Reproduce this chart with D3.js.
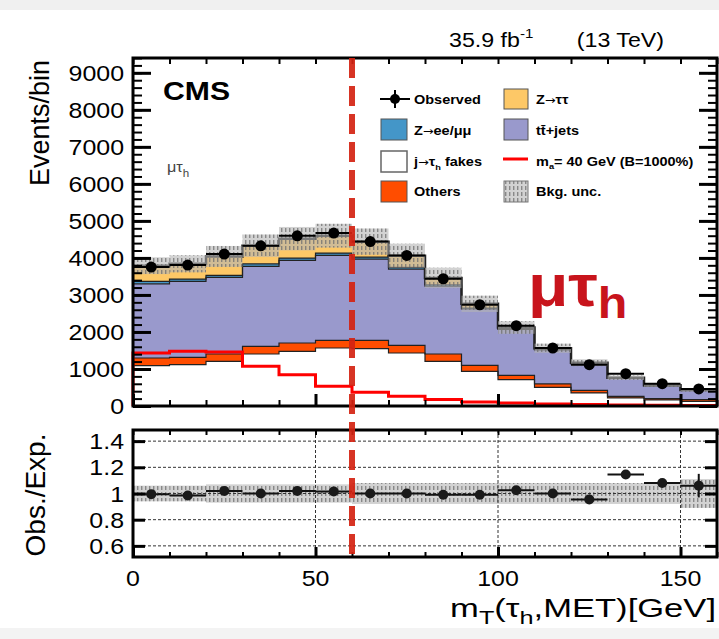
<!DOCTYPE html>
<html>
<head>
<meta charset="utf-8">
<script src="https://cdn.jsdelivr.net/npm/d3@7"></script>
<style>
  body { margin: 0; background: #fff; }
  text { font-family: "Liberation Sans", Arial, Helvetica, sans-serif; }
  .arr { font-family: "DejaVu Sans", sans-serif; font-weight: normal; }
</style>
</head>
<body>
<div id="chart"></div>
<script>
// bins of mT (GeV)
const edges = [0,10,20,30,40,50,60,70,80,90,100,110,120,130,140,150,160];

// stacked backgrounds, events per bin (bottom -> top)
const fakes  = [1090,1117,1206,1405,1476,1567,1550,1432,1206,936,712,505,353,218,164,125];
const others = [207,197,199,206,226,205,220,206,199,162,113,91,71,44,36,45];
const ttjets = [2003,2050,2067,2158,2229,2294,2198,2060,1835,1522,1245,919,716,481,345,255];
const zll    = [64,64,54,72,64,64,54,44,35,26,20,20,10,10,7,5];
const ztt    = [426,412,514,489,525,470,418,318,185,114,30,25,20,12,8,5];

const observed = [3752,3806,4103,4327,4597,4670,4443,4066,3437,2735,2169,1567,1117,874,604,461];
const signal   = [1432,1476,1459,1071,847,531,370,262,173,110,80,55,40,30,20,15];

// ratio panel
const ratio    = [0.995,0.985,1.02,1.0,1.02,1.015,1.0,1.0,0.99,0.99,1.025,1.0,0.955,1.145,1.08,1.06];
const ratioErr = [0.01,0.01,0.01,0.01,0.01,0.01,0.01,0.01,0.01,0.01,0.012,0.014,0.018,0.02,0.025,0.09];
const bkgUnc   = [0.06,0.06,0.07,0.07,0.07,0.07,0.08,0.08,0.08,0.08,0.08,0.08,0.08,0.08,0.08,0.11];

const yTicksMain  = [0,1000,2000,3000,4000,5000,6000,7000,8000,9000];
const yTicksRatio = [0.6,0.8,1.0,1.2,1.4];
const xTicks = [0,50,100,150];

const W = 719, H = 639;
const SX = 1.16; // the picture is a bit stretched horizontally

var svg = d3.select("#chart").append("svg")
    .attr("width", W).attr("height", H);

svg.append("rect").attr("width", W).attr("height", H).attr("fill", "#fff");
svg.append("rect").attr("width", W).attr("height", 10).attr("fill", "#f0f0f0");
svg.append("rect").attr("y", 628).attr("width", W).attr("height", 11).attr("fill", "#f3f3f3");

var defs = svg.append("defs");
var pat = defs.append("pattern").attr("id", "hatch")
    .attr("patternUnits", "userSpaceOnUse").attr("width", 4).attr("height", 6);
pat.append("rect").attr("width", 4).attr("height", 6).attr("fill", "#b4b4b4").attr("fill-opacity", 0.6);
pat.append("rect").attr("x", 1).attr("width", 1.4).attr("height", 4).attr("fill", "#6e6e6e").attr("fill-opacity", 0.75);

var x = d3.scaleLinear().domain([0, 160]).range([133, 717]);
var y = d3.scaleLinear().domain([0, 9400]).range([406, 58]);
var yr = d3.scaleLinear().domain([0.515, 1.485]).range([557, 430]);

function label(g, px, py, s, size, anchor, sx) {
    return g.append("text")
        .attr("transform", "translate(" + px + "," + py + ") scale(" + (sx || SX) + ",1)")
        .attr("font-size", size)
        .attr("text-anchor", anchor || "start")
        .text(s);
}

// ---------- main panel ----------
var main = svg.append("g");

var rows = fakes.map(function(d, i) {
    return {fakes: fakes[i], others: others[i], ttjets: ttjets[i], zll: zll[i], ztt: ztt[i]};
});
var keys = ["fakes", "others", "ttjets", "zll", "ztt"];
var colors = {fakes: "#ffffff", others: "#ff4d00", ttjets: "#9999cc", zll: "#4496c8", ztt: "#fdc867"};
var series = d3.stack().keys(keys)(rows);

function stepPts(vals) {
    var pts = [];
    vals.forEach(function(v, i) {
        pts.push({x: edges[i], v: v});
        pts.push({x: edges[i + 1], v: v});
    });
    return pts;
}

series.forEach(function(s) {
    var pts = [];
    s.forEach(function(d, i) {
        pts.push({x: edges[i], y0: d[0], y1: d[1]});
        pts.push({x: edges[i + 1], y0: d[0], y1: d[1]});
    });
    main.append("path")
        .attr("d", d3.area().x(function(d) { return x(d.x); })
            .y0(function(d) { return y(d.y0); })
            .y1(function(d) { return y(d.y1); })(pts))
        .attr("fill", colors[s.key]);
});

var stepLine = d3.line().x(function(d) { return x(d.x); }).y(function(d) { return y(d.v); });

// layer boundaries
series.forEach(function(s, k) {
    main.append("path")
        .attr("d", stepLine(stepPts(s.map(function(d) { return d[1]; }))))
        .attr("fill", "none")
        .attr("stroke", "#222")
        .attr("stroke-width", k === series.length - 1 ? 2.5 : 1.2);
});

// background uncertainty band
var totals = series[series.length - 1].map(function(d) { return d[1]; });
main.selectAll(".unc").data(totals).enter().append("rect")
    .attr("x", function(d, i) { return x(edges[i]); })
    .attr("width", function(d, i) { return x(edges[i + 1]) - x(edges[i]); })
    .attr("y", function(d, i) { return y(d * (1 + bkgUnc[i])); })
    .attr("height", function(d, i) { return y(d * (1 - bkgUnc[i])) - y(d * (1 + bkgUnc[i])); })
    .attr("fill", "url(#hatch)");

// signal
var sigPts = [{x: 0, v: 0}].concat(stepPts(signal));
main.append("path")
    .attr("d", stepLine(sigPts))
    .attr("fill", "none")
    .attr("stroke", "#ff0000")
    .attr("stroke-width", 3);

// observed
var obs = main.append("g");
obs.selectAll("line").data(observed).enter().append("line")
    .attr("x1", function(d, i) { return x(edges[i]); })
    .attr("x2", function(d, i) { return x(edges[i + 1]); })
    .attr("y1", function(d) { return y(d); })
    .attr("y2", function(d) { return y(d); })
    .attr("stroke", "#000").attr("stroke-width", 2);
obs.selectAll("circle").data(observed).enter().append("circle")
    .attr("cx", function(d, i) { return x((edges[i] + edges[i + 1]) / 2); })
    .attr("cy", function(d) { return y(d); })
    .attr("r", 5.5)
    .attr("fill", "#000");

// axes of the main panel
function minorRange(a, b, step) {
    var out = [];
    for (var v = a; v <= b + 1e-9; v += step) out.push(+v.toFixed(4));
    return out;
}
var yMinor = minorRange(0, 9400, 200);
var xMinor = minorRange(0, 160, 10);

function tickAxis(g, axis, tr) {
    var a = g.append("g").attr("transform", tr).call(axis);
    a.select(".domain").remove();
    a.selectAll("line").attr("stroke", "#000");
    return a;
}
tickAxis(main, d3.axisLeft(y).tickValues(yMinor).tickSize(-9).tickFormat(""), "translate(133,0)").selectAll("line").attr("stroke-width", 2);
tickAxis(main, d3.axisLeft(y).tickValues(yTicksMain).tickSize(-18).tickFormat(""), "translate(133,0)").selectAll("line").attr("stroke-width", 3);
tickAxis(main, d3.axisRight(y).tickValues(yMinor).tickSize(-9).tickFormat(""), "translate(717,0)").selectAll("line").attr("stroke-width", 2);
tickAxis(main, d3.axisRight(y).tickValues(yTicksMain).tickSize(-18).tickFormat(""), "translate(717,0)").selectAll("line").attr("stroke-width", 3);
tickAxis(main, d3.axisBottom(x).tickValues(xMinor).tickSize(-6).tickFormat(""), "translate(0,406)").selectAll("line").attr("stroke-width", 2);
tickAxis(main, d3.axisBottom(x).tickValues(xTicks).tickSize(-12).tickFormat(""), "translate(0,406)").selectAll("line").attr("stroke-width", 3);
tickAxis(main, d3.axisTop(x).tickValues(xMinor).tickSize(-6).tickFormat(""), "translate(0,58)").selectAll("line").attr("stroke-width", 2);

main.append("rect")
    .attr("x", 133).attr("y", 58).attr("width", 584).attr("height", 348)
    .attr("fill", "none").attr("stroke", "#000").attr("stroke-width", 3);

yTicksMain.forEach(function(t) {
    label(svg, 124, y(t) + 8, t, 21.5, "end");
});

// ---------- ratio panel ----------
var rp = svg.append("g");

rp.selectAll(".band").data(bkgUnc).enter().append("rect")
    .attr("x", function(d, i) { return x(edges[i]); })
    .attr("width", function(d, i) { return x(edges[i + 1]) - x(edges[i]); })
    .attr("y", function(d) { return yr(1 + d); })
    .attr("height", function(d) { return yr(1 - d) - yr(1 + d); })
    .attr("fill", "url(#hatch)");

yTicksRatio.forEach(function(t) {
    rp.append("line").attr("x1", 133).attr("x2", 717).attr("y1", yr(t)).attr("y2", yr(t))
        .attr("stroke", "#333").attr("stroke-width", 1).attr("stroke-dasharray", "3,2");
});
[50, 100, 150].forEach(function(t) {
    rp.append("line").attr("x1", x(t)).attr("x2", x(t)).attr("y1", 430).attr("y2", 557)
        .attr("stroke", "#333").attr("stroke-width", 1).attr("stroke-dasharray", "3,2");
});

rp.selectAll(".rerr").data(ratio).enter().append("line")
    .attr("x1", function(d, i) { return x((edges[i] + edges[i + 1]) / 2); })
    .attr("x2", function(d, i) { return x((edges[i] + edges[i + 1]) / 2); })
    .attr("y1", function(d, i) { return yr(d + ratioErr[i]); })
    .attr("y2", function(d, i) { return yr(d - ratioErr[i]); })
    .attr("stroke", "#111").attr("stroke-width", 2);
rp.selectAll(".rh").data(ratio).enter().append("line")
    .attr("x1", function(d, i) { return x(edges[i]); })
    .attr("x2", function(d, i) { return x(edges[i + 1]); })
    .attr("y1", function(d) { return yr(d); })
    .attr("y2", function(d) { return yr(d); })
    .attr("stroke", "#111").attr("stroke-width", 2);
rp.selectAll("circle").data(ratio).enter().append("circle")
    .attr("cx", function(d, i) { return x((edges[i] + edges[i + 1]) / 2); })
    .attr("cy", function(d) { return yr(d); })
    .attr("r", 5)
    .attr("fill", "#1a1a1a");

tickAxis(rp, d3.axisLeft(yr).tickValues(yTicksRatio).tickSize(-12).tickFormat(""), "translate(133,0)").selectAll("line").attr("stroke-width", 3);
tickAxis(rp, d3.axisRight(yr).tickValues(yTicksRatio).tickSize(-12).tickFormat(""), "translate(717,0)").selectAll("line").attr("stroke-width", 3);
tickAxis(rp, d3.axisBottom(x).tickValues(xMinor).tickSize(-5).tickFormat(""), "translate(0,557)").selectAll("line").attr("stroke-width", 2);
tickAxis(rp, d3.axisBottom(x).tickValues(xTicks).tickSize(-10).tickFormat(""), "translate(0,557)").selectAll("line").attr("stroke-width", 3);
tickAxis(rp, d3.axisTop(x).tickValues(xMinor).tickSize(-5).tickFormat(""), "translate(0,430)").selectAll("line").attr("stroke-width", 2);

rp.append("rect")
    .attr("x", 133).attr("y", 430).attr("width", 584).attr("height", 127)
    .attr("fill", "none").attr("stroke", "#000").attr("stroke-width", 3);

yTicksRatio.forEach(function(t) {
    label(svg, 124, yr(t) + 8, t === 1 ? "1" : d3.format(".1f")(t), 21.5, "end");
});
xTicks.forEach(function(t) {
    label(svg, x(t), 586, t, 21.5, "middle");
});

// red dashed line at 60 GeV
svg.append("line")
    .attr("x1", x(60)).attr("x2", x(60)).attr("y1", 58).attr("y2", 562)
    .attr("stroke", "#d42312").attr("stroke-width", 6)
    .attr("stroke-dasharray", "20,8").attr("opacity", 0.92);

// ---------- titles ----------
svg.append("text")
    .attr("transform", "translate(49,60) rotate(-90)")
    .attr("text-anchor", "end").attr("font-size", 27)
    .text("Events/bin");
svg.append("text")
    .attr("transform", "translate(45,495) rotate(-90)")
    .attr("text-anchor", "middle").attr("font-size", 28)
    .text("Obs./Exp.");

var xt = label(svg, 716, 617, "", 26, "end", 1.33);
xt.append("tspan").text("m");
xt.append("tspan").attr("font-size", 19).attr("dy", 7).text("T");
xt.append("tspan").attr("dy", -7).text("(τ");
xt.append("tspan").attr("font-size", 19).attr("dy", 7).text("h");
xt.append("tspan").attr("dy", -7).text(",MET)[GeV]");

var lum = label(svg, 449, 47, "", 20, "start");
lum.append("tspan").text("35.9 fb");
lum.append("tspan").attr("font-size", 13).attr("dy", -9).text("-1");
label(svg, 664, 47, "(13 TeV)", 20, "end");

label(svg, 163, 100, "CMS", 26, "start").attr("font-weight", "bold");

var ch = label(svg, 167, 172, "", 14, "start").attr("fill", "#444");
ch.append("tspan").text("μτ");
ch.append("tspan").attr("font-size", 10).attr("dy", 5).text("h");

var big = label(svg, 528, 306, "", 60, "start", 1.1)
    .attr("font-weight", "bold").attr("fill", "#c8141c");
big.append("tspan").text("μτ");
big.append("tspan").attr("font-size", 44).attr("dy", 12).text("h");

// ---------- legend ----------
var leg = svg.append("g");
function legText(px, py, s) {
    return label(leg, px, py, s, 12.5, "start").attr("font-weight", "bold");
}
function arrowText(t, before, after) {
    t.append("tspan").text(before);
    t.append("tspan").attr("class", "arr").attr("font-size", 11).text("→");
    t.append("tspan").text(after);
    return t;
}
// row 1
leg.append("line").attr("x1", 380).attr("x2", 410).attr("y1", 99).attr("y2", 99).attr("stroke", "#000").attr("stroke-width", 2);
leg.append("line").attr("x1", 395).attr("x2", 395).attr("y1", 90).attr("y2", 108).attr("stroke", "#000").attr("stroke-width", 2);
leg.append("circle").attr("cx", 395).attr("cy", 99).attr("r", 5).attr("fill", "#000");
legText(414, 104, "Observed");
leg.append("rect").attr("x", 504).attr("y", 89).attr("width", 24).attr("height", 20).attr("fill", colors.ztt).attr("stroke", "#555");
arrowText(legText(536, 104, ""), "Z", "ττ");
// row 2
leg.append("rect").attr("x", 381).attr("y", 119).attr("width", 26).attr("height", 21).attr("fill", colors.zll).attr("stroke", "#555");
arrowText(legText(414, 135, ""), "Z", "ee/μμ");
leg.append("rect").attr("x", 504).attr("y", 119).attr("width", 24).attr("height", 21).attr("fill", colors.ttjets).attr("stroke", "#555");
legText(536, 135, "tt̄+jets");
// row 3
leg.append("rect").attr("x", 381).attr("y", 151).attr("width", 26).attr("height", 21).attr("fill", "#fff").attr("stroke", "#666").attr("stroke-width", 1.5);
var jf = arrowText(legText(414, 166, ""), "j", "τ");
jf.append("tspan").attr("font-size", 8).attr("dy", 4).text("h");
jf.append("tspan").attr("dy", -4).text(" fakes");
leg.append("line").attr("x1", 503).attr("x2", 528).attr("y1", 159).attr("y2", 159).attr("stroke", "#ff0000").attr("stroke-width", 3);
var ma = legText(536, 166, "");
ma.append("tspan").text("m");
ma.append("tspan").attr("font-size", 8).attr("dy", 3).text("a");
ma.append("tspan").attr("dy", -3).text("= 40 GeV (B=1000%)");
// row 4
leg.append("rect").attr("x", 381).attr("y", 181).attr("width", 26).attr("height", 21).attr("fill", colors.others).attr("stroke", "#555");
legText(414, 196, "Others");
leg.append("rect").attr("x", 504).attr("y", 181).attr("width", 24).attr("height", 21).attr("fill", "url(#hatch)").attr("stroke", "#777");
legText(536, 196, "Bkg. unc.");
</script>
</body>
</html>
